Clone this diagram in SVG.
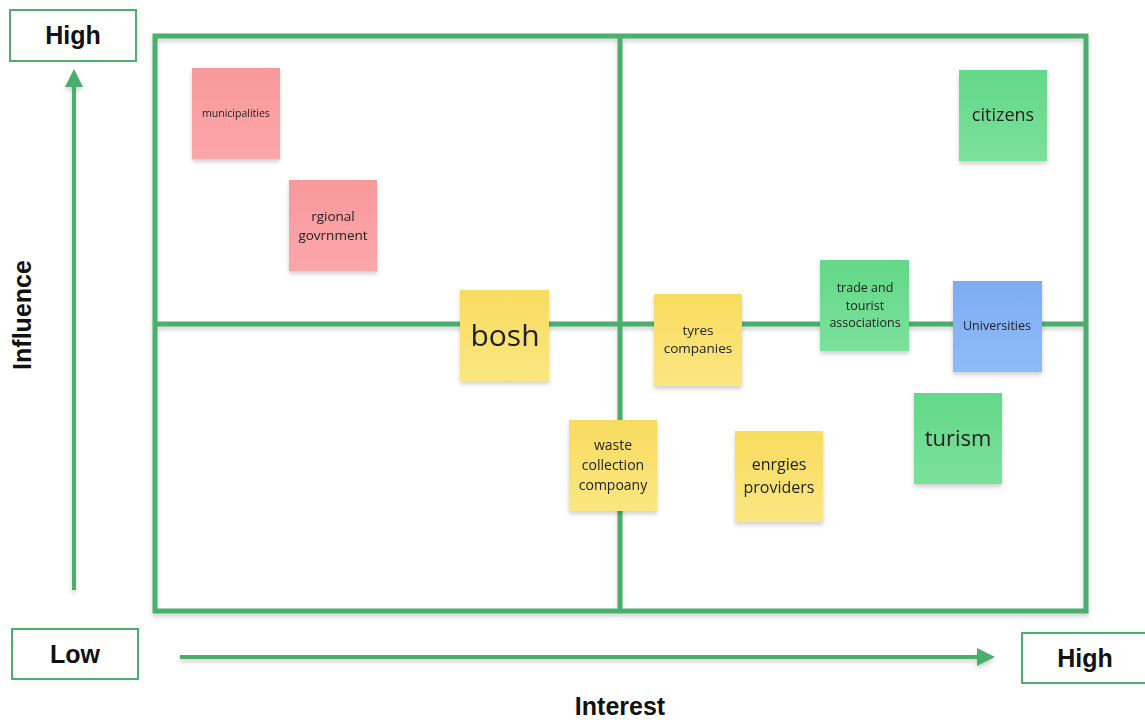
<svg xmlns="http://www.w3.org/2000/svg" width="1145" height="720" viewBox="0 0 1145 720">
  <style>
    .frame { fill: none; stroke: #4caf6c; stroke-width: 5; }
    .axis { fill: none; stroke: #4caf6c; stroke-width: 4; }
    .lbox { fill: #fff; stroke: #4caf6c; stroke-width: 2; }
    .ltext { font-family: "Liberation Sans", Arial, sans-serif; font-weight: bold; font-size: 25px; fill: #111; text-anchor: middle; }
    .note { font-family: "Open Sans", "Noto Sans", sans-serif; fill: #222; text-anchor: middle; }
  </style>
  <defs>
    <linearGradient id="pink" x1="0" y1="0" x2="0" y2="1">
      <stop offset="0" stop-color="#f8989b"/>
      <stop offset="1" stop-color="#fca7aa"/>
    </linearGradient>
    <linearGradient id="yellow" x1="0" y1="0" x2="0" y2="1">
      <stop offset="0" stop-color="#f8dc5f"/>
      <stop offset="1" stop-color="#fbe682"/>
    </linearGradient>
    <linearGradient id="green" x1="0" y1="0" x2="0" y2="1">
      <stop offset="0" stop-color="#64d888"/>
      <stop offset="1" stop-color="#7ae19b"/>
    </linearGradient>
    <linearGradient id="blue" x1="0" y1="0" x2="0" y2="1">
      <stop offset="0" stop-color="#7eacf4"/>
      <stop offset="1" stop-color="#90bbf8"/>
    </linearGradient>
    <filter id="shadow" x="-10%" y="-10%" width="130%" height="130%">
      <feDropShadow dx="0" dy="3" stdDeviation="2" flood-color="#000" flood-opacity="0.18"/>
    </filter>
    <marker id="head" viewBox="0 0 10 10" refX="5" refY="5" markerWidth="4.5" markerHeight="4.5" orient="auto">
      <path d="M0,0 L10,5 L0,10 z" fill="#4caf6c"/>
    </marker>
  </defs>

  <!-- quadrant frame -->
  <g id="grid" filter="url(#shadow)">
    <rect class="frame" x="155" y="36" width="931" height="575"/>
    <line class="frame" x1="620" y1="36" x2="620" y2="611"/>
    <line class="frame" x1="155" y1="324" x2="1086" y2="324"/>
  </g>

  <!-- axes -->
  <g id="connectors" filter="url(#shadow)">
    <line class="axis" x1="74" y1="590" x2="74" y2="78" marker-end="url(#head)"/>
    <line class="axis" x1="180" y1="657" x2="986" y2="657" marker-end="url(#head)"/>
  </g>

  <!-- axis end labels -->
  <g id="influence-high">
    <rect class="lbox" x="10" y="10" width="126" height="51"/>
    <text class="ltext" x="73" y="44">High</text>
  </g>
  <g id="influence-low">
    <rect class="lbox" x="12" y="629" width="126" height="50"/>
    <text class="ltext" x="75" y="663">Low</text>
  </g>
  <g id="interest-high">
    <rect class="lbox" x="1022" y="633" width="126" height="50"/>
    <text class="ltext" x="1085" y="667">High</text>
  </g>
  <g id="axis-titles">
    <text class="ltext" x="620" y="715" font-size="26">Interest</text>
    <text class="ltext" font-size="26" transform="translate(31,315) rotate(-90)">Influence</text>
  </g>

  <!-- sticky notes -->
  <g id="municipalities" filter="url(#shadow)">
    <rect x="192" y="68" width="88" height="91" fill="url(#pink)"/>
    <text class="note" x="236" y="117" font-size="10.5">municipalities</text>
  </g>
  <g id="regional-government" filter="url(#shadow)">
    <rect x="289" y="180" width="88" height="91" fill="url(#pink)"/>
    <text class="note" x="333" y="221" font-size="13.5">rgional</text>
    <text class="note" x="333" y="240" font-size="13.5">govrnment</text>
  </g>
  <g id="bosh" filter="url(#shadow)">
    <rect x="460" y="290" width="89" height="91" fill="url(#yellow)"/>
    <text class="note" x="505" y="346" font-size="30">bosh</text>
  </g>
  <g id="tyres-companies" filter="url(#shadow)">
    <rect x="654" y="294" width="88" height="92" fill="url(#yellow)"/>
    <text class="note" x="698" y="335" font-size="13.5">tyres</text>
    <text class="note" x="698" y="353" font-size="13.5">companies</text>
  </g>
  <g id="waste-collection" filter="url(#shadow)">
    <rect x="569" y="420" width="88" height="91" fill="url(#yellow)"/>
    <text class="note" x="613" y="450" font-size="14">waste</text>
    <text class="note" x="613" y="470" font-size="14">collection</text>
    <text class="note" x="613" y="490" font-size="14">compoany</text>
  </g>
  <g id="energies-providers" filter="url(#shadow)">
    <rect x="735" y="431" width="88" height="91" fill="url(#yellow)"/>
    <text class="note" x="779" y="470" font-size="16">enrgies</text>
    <text class="note" x="779" y="493" font-size="16">providers</text>
  </g>
  <g id="trade-tourist" filter="url(#shadow)">
    <rect x="820" y="260" width="89" height="91" fill="url(#green)"/>
    <text class="note" x="865" y="292" font-size="12.5">trade and</text>
    <text class="note" x="865" y="310" font-size="12.5">tourist</text>
    <text class="note" x="865" y="327" font-size="12.5">associations</text>
  </g>
  <g id="universities" filter="url(#shadow)">
    <rect x="953" y="281" width="89" height="91" fill="url(#blue)"/>
    <text class="note" x="997" y="330" font-size="12.5">Universities</text>
  </g>
  <g id="turism" filter="url(#shadow)">
    <rect x="914" y="393" width="88" height="91" fill="url(#green)"/>
    <text class="note" x="958" y="446" font-size="22">turism</text>
  </g>
  <g id="citizens" filter="url(#shadow)">
    <rect x="959" y="70" width="88" height="91" fill="url(#green)"/>
    <text class="note" x="1003" y="121" font-size="18">citizens</text>
  </g>
</svg>
